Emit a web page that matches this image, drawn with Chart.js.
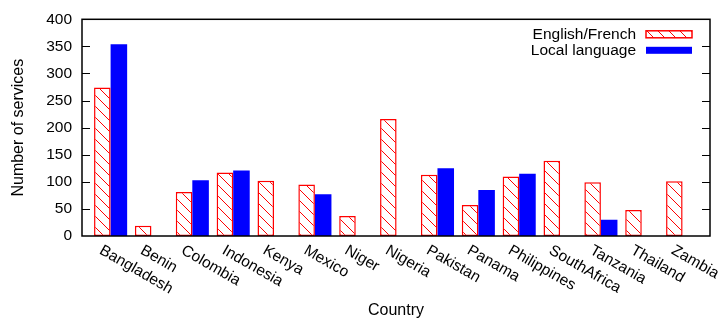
<!DOCTYPE html>
<html>
<head>
<meta charset="utf-8">
<script src="https://cdn.jsdelivr.net/npm/chart.js@4"></script>
<style>
  html, body { margin: 0; padding: 0; background: #fff; }
  canvas { display: block; }
</style>
</head>
<body>
<canvas id="chart" width="718" height="324"></canvas>
<script>
const countries = ['Bangladesh', 'Benin', 'Colombia', 'Indonesia', 'Kenya', 'Mexico', 'Niger', 'Nigeria',
  'Pakistan', 'Panama', 'Philippines', 'SouthAfrica', 'Tanzania', 'Thailand', 'Zambia'];
const englishFrench = [274, 19, 81, 117, 102, 95, 37, 216, 113, 57, 110, 139, 99, 48, 101];
const localLanguage = [354, null, 103, 121, null, 77, null, null, 125, 85, 115, null, 30, null, null];
const yTicks = [0, 50, 100, 150, 200, 250, 300, 350, 400];

const FONT = '"Liberation Sans", Arial, sans-serif';
const RED = '#ff0000';
const BLUE = '#0000ff';

// diagonal hatch like gnuplot's fill pattern
const makeHatch = (size) => {
  const c = document.createElement('canvas');
  c.width = size; c.height = size;
  const g = c.getContext('2d');
  g.fillStyle = '#fff';
  g.fillRect(0, 0, size, size);
  g.strokeStyle = RED;
  g.lineWidth = 1;
  g.beginPath();
  g.moveTo(-2, -2);
  g.lineTo(size + 2, size + 2);
  g.stroke();
  return g.createPattern(c, 'repeat');
};
const hatch = makeHatch(11);

const toPoints = (vals) => vals.map((v, i) => ({ x: i, y: v }));

// frame + inward ticks, rotated country labels, and key in the top right
const gnuplotLook = {
  id: 'gnuplotLook',
  afterDraw(chart) {
    const { ctx, chartArea: a, scales } = chart;
    ctx.save();
    ctx.strokeStyle = '#000';
    ctx.lineWidth = 1.5;
    ctx.strokeRect(a.left, a.top, a.right - a.left, a.bottom - a.top);
    ctx.lineWidth = 1;
    yTicks.slice(1, -1).forEach(v => {
      const y = Math.round(scales.y.getPixelForValue(v)) + 0.5;
      ctx.beginPath();
      ctx.moveTo(a.left, y); ctx.lineTo(a.left + 8, y);
      ctx.moveTo(a.right - 8, y); ctx.lineTo(a.right, y);
      ctx.stroke();
    });

    ctx.fillStyle = '#000';
    ctx.font = '15.5px ' + FONT;
    ctx.textAlign = 'left';
    ctx.textBaseline = 'alphabetic';
    countries.forEach((name, i) => {
      const x = scales.x.getPixelForValue(i);
      ctx.save();
      ctx.translate(x - 12, a.bottom + 17);
      ctx.rotate(Math.PI / 6);
      ctx.fillText(name, 0, 0);
      ctx.restore();
    });

    ctx.textAlign = 'right';
    ctx.textBaseline = 'middle';
    chart.data.datasets.forEach((ds, i) => {
      const cy = a.top + 15 + i * 16;
      ctx.fillStyle = '#000';
      ctx.fillText(ds.label, 636, cy);
      ctx.fillStyle = ds.backgroundColor;
      ctx.fillRect(646, cy - 3.5, 46, 7);
      if (ds.borderWidth) {
        ctx.strokeStyle = ds.borderColor;
        ctx.lineWidth = 1.5;
        ctx.strokeRect(646, cy - 3.5, 46, 7);
      }
    });
    ctx.restore();
  }
};

new Chart(document.getElementById('chart'), {
  type: 'bar',
  data: {
    datasets: [
      {
        label: 'English/French',
        data: toPoints(englishFrench),
        backgroundColor: hatch,
        borderColor: RED,
        borderWidth: 1.5,
        borderSkipped: false
      },
      {
        label: 'Local language',
        data: toPoints(localLanguage),
        backgroundColor: BLUE,
        borderWidth: 0
      }
    ]
  },
  options: {
    responsive: false,
    animation: false,
    devicePixelRatio: 1,
    layout: { padding: { left: 0, right: 8, top: 16, bottom: 0 } },
    datasets: { bar: { categoryPercentage: 0.81, barPercentage: 1.0 } },
    plugins: { legend: { display: false }, tooltip: { enabled: false } },
    scales: {
      x: {
        type: 'linear',
        offset: false,
        min: -0.70,
        max: 14.67,
        grid: { display: false, offset: false },
        border: { display: false },
        ticks: { display: false, stepSize: 1, includeBounds: false },
        title: { display: true, text: 'Country', color: '#000', font: { family: FONT, size: 16 } },
        afterFit: (s) => { s.height = 88; }
      },
      y: {
        min: 0,
        max: 400,
        grid: { display: false, drawTicks: false },
        border: { display: false },
        ticks: {
          stepSize: 50,
          padding: 10,
          color: '#000',
          font: { family: FONT, size: 15.5 },
          callback: (v) => yTicks.includes(v) ? String(v) : ''
        },
        title: {
          display: true,
          text: 'Number of services',
          color: '#000',
          font: { family: FONT, size: 16 },
          padding: { top: 9, bottom: 4 }
        },
        afterFit: (s) => { s.width = 82; }
      }
    }
  },
  plugins: [gnuplotLook]
});
</script>
</body>
</html>
